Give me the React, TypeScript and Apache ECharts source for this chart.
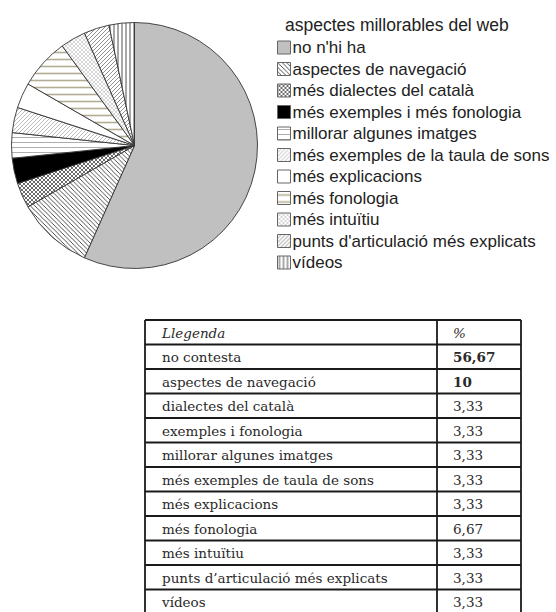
import React, { useEffect, useRef } from "react";
import * as echarts from "echarts";

// ---------- data ----------
const legendTitle = "aspectes millorables del web";
const sliceNames = [
  "no n'hi ha",
  "aspectes de navegació",
  "més dialectes del català",
  "més exemples i més fonologia",
  "millorar algunes imatges",
  "més exemples de la taula de sons",
  "més explicacions",
  "més fonologia",
  "més intuïtiu",
  "punts d'articulació més explicats",
  "vídeos",
];
const sliceValues = [56.67, 10, 3.33, 3.33, 3.33, 3.33, 3.33, 6.67, 3.33, 3.33, 3.33];

const tableHeader = ["Llegenda", "%"];
const tableLabels = [
  "no contesta",
  "aspectes de navegació",
  "dialectes del català",
  "exemples i fonologia",
  "millorar algunes imatges",
  "més exemples de taula de sons",
  "més explicacions",
  "més fonologia",
  "més intuïtiu",
  "punts d’articulació més explicats",
  "vídeos",
];
const tableValues = ["56,67", "10", "3,33", "3,33", "3,33", "3,33", "3,33", "6,67", "3,33", "3,33", "3,33"];
const tableBold = [true, true, false, false, false, false, false, false, false, false, false];

// ---------- pattern helpers ----------
function svgPattern(size: number, content: string, bg = "#ffffff") {
  const svg =
    `<svg xmlns="http://www.w3.org/2000/svg" width="${size}" height="${size}">` +
    `<rect width="${size}" height="${size}" fill="${bg}"/>${content}</svg>`;
  return {
    image: "data:image/svg+xml;charset=utf-8," + encodeURIComponent(svg),
    repeat: "repeat",
    imageWidth: size,
    imageHeight: size,
  };
}
const back = (s: number, c: string, w: number) =>
  `<path d="M-1,-1 L${s + 1},${s + 1} M-1,${s - 1} L1,${s + 1} M${s - 1},-1 L${s + 1},1" stroke="${c}" stroke-width="${w}" fill="none"/>`;
const slash = (s: number, c: string, w: number) =>
  `<path d="M-1,${s + 1} L${s + 1},-1 M-1,1 L1,-1 M${s - 1},${s + 1} L${s + 1},${s - 1}" stroke="${c}" stroke-width="${w}" fill="none"/>`;
const hline = (s: number, c: string, w: number) =>
  `<path d="M0,${s / 2} L${s},${s / 2}" stroke="${c}" stroke-width="${w}" fill="none"/>`;
const vline = (s: number, c: string, w: number) =>
  `<path d="M${s / 2},0 L${s / 2},${s}" stroke="${c}" stroke-width="${w}" fill="none"/>`;

const sliceFills: any[] = [
  "#c0c0c0",
  svgPattern(4.5, back(4.5, "#222", 0.8)),
  svgPattern(4, back(4, "#444", 0.8) + slash(4, "#444", 0.8)),
  "#000000",
  svgPattern(5, hline(5, "#999", 0.8)),
  svgPattern(4, slash(4, "#aaa", 0.8)),
  "#ffffff",
  svgPattern(7, hline(7, "#b3ae92", 1.6)),
  svgPattern(4, back(4, "#c4c4c4", 0.7) + slash(4, "#c4c4c4", 0.7)),
  svgPattern(4, slash(4, "#777", 0.8)),
  svgPattern(4, vline(4, "#222", 0.8)),
];

// ---------- table layout ----------
const TABLE_LEFT = 145;
const TABLE_MID = 437;
const TABLE_RIGHT = 521;
const TABLE_TOP = 320;
const ROW_H = 24.5;

function buildTable(): any[] {
  const els: any[] = [];
  const rows = [{ l: tableHeader[0], v: tableHeader[1], header: true, bold: false }].concat(
    tableLabels.map((l, i) => ({ l, v: tableValues[i], header: false, bold: tableBold[i] }))
  );
  const n = rows.length;
  const bottom = TABLE_TOP + n * ROW_H;
  const lineStyle = { stroke: "#1a1a1a", lineWidth: 1.8 };
  for (let i = 0; i <= n; i++) {
    const y = TABLE_TOP + i * ROW_H;
    els.push({ type: "line", shape: { x1: TABLE_LEFT, y1: y, x2: TABLE_RIGHT, y2: y }, style: lineStyle, silent: true });
  }
  [TABLE_LEFT, TABLE_MID, TABLE_RIGHT].forEach((x) => {
    els.push({ type: "line", shape: { x1: x, y1: TABLE_TOP, x2: x, y2: bottom }, style: lineStyle, silent: true });
  });
  rows.forEach((r, i) => {
    const cy = TABLE_TOP + i * ROW_H + ROW_H / 2 + 0.5;
    const font = {
      fontFamily: "DejaVu Serif, serif",
      fontSize: 13.5,
      fontStyle: r.header ? "italic" : "normal",
    };
    els.push({
      type: "text",
      x: 162,
      y: cy,
      style: { text: r.l, ...font, fill: "#2a2a2a", verticalAlign: "middle", align: "left" },
      silent: true,
    });
    els.push({
      type: "text",
      x: 453,
      y: cy,
      style: {
        text: r.v,
        ...font,
        fontWeight: r.bold ? "bold" : "normal",
        fill: "#2a2a2a",
        verticalAlign: "middle",
        align: "left",
      },
      silent: true,
    });
  });
  return els;
}

export default function App() {
  const ref = useRef<HTMLDivElement>(null);
  useEffect(() => {
    if (!ref.current) return;
    const chart = echarts.init(ref.current, null, { renderer: "svg" });
    chart.setOption({
      animation: false,
      backgroundColor: "#ffffff",
      legend: {
        orient: "vertical",
        left: 277,
        top: 39,
        padding: 0,
        itemWidth: 13,
        itemHeight: 13,
        itemGap: 4.5,
        icon: "rect",
        selectedMode: false,
        data: sliceNames,
        itemStyle: { borderColor: "#666", borderWidth: 1 },
        textStyle: {
          fontFamily: "Liberation Sans, Arial, sans-serif",
          fontSize: 17,
          lineHeight: 17,
          color: "#222",
          padding: [0, 0, 0, -3],
        },
      },
      series: [
        {
          type: "pie",
          center: [134.5, 145.5],
          radius: 123,
          startAngle: 90,
          clockwise: true,
          silent: true,
          label: { show: false },
          labelLine: { show: false },
          itemStyle: { borderColor: "#333", borderWidth: 0.9 },
          data: sliceNames.map((name, i) => ({
            name,
            value: sliceValues[i],
            itemStyle: { color: sliceFills[i] },
          })),
        },
      ],
      graphic: [
        {
          type: "text",
          x: 285,
          y: 25,
          style: {
            text: legendTitle,
            fontFamily: "Liberation Sans, Arial, sans-serif",
            fontSize: 17.5,
            fill: "#222",
            verticalAlign: "middle",
          },
          silent: true,
        },
        ...buildTable(),
      ],
    });
    return () => chart.dispose();
  }, []);
  return (
    <div
      ref={ref}
      style={{ position: "absolute", left: 0, top: 0, width: 556, height: 612, background: "#fff" }}
    />
  );
}
